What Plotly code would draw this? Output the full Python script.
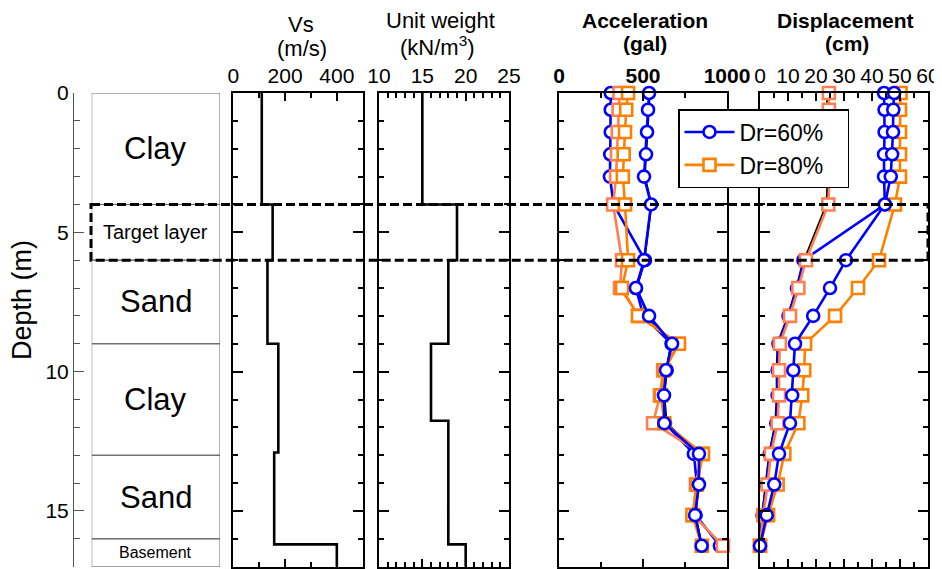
import plotly.graph_objects as go

W, H = 942, 569
FONT = "Liberation Sans, Arial, sans-serif"
OFF = 8  # the page body margin offsets the figure by 8 px

# ---------------- data ----------------
layer_names = ["Clay", "Target layer", "Sand", "Clay", "Sand", "Basement"]
layer_top = [0, 4, 6, 9, 13, 16]
layer_bottom = [4, 6, 9, 13, 16, 17]

vs_depth = [0, 4, 6, 9, 12.9, 16.2, 17]
vs_value = [110, 152, 132, 174, 158, 400, 400]

uw_depth = [0, 4, 6, 9, 11.76, 16.2, 17]
uw_value = [15, 19, 18, 16, 18, 20, 20]

depth_pts = [0, 0.6, 1.4, 2.2, 3.0, 4.0, 6.0, 7.0, 8.0, 9.0, 9.95, 10.85, 11.85, 12.95, 14.05, 15.15, 16.25]

acc_black = [540, 534, 527, 520, 510, 550, 508, 462, 530, 668, 640, 627, 640, 838, 830, 812, 850]
acc_blue_a = [308, 308, 308, 305, 303, 325, 512, 458, 502, 670, 641, 620, 631, 803, 821, 813, 958]
acc_coral = [360, 355, 350, 345, 340, 322, 375, 363, 476, 710, 620, 601, 560, 851, 815, 800, 976]
acc_orange = [411, 400, 393, 385, 380, 393, 411, 375, 470, 714, 625, 607, 627, 857, 821, 794, 850]
acc_blue_b = [536, 530, 524, 518, 506, 548, 506, 458, 536, 673, 637, 625, 627, 833, 833, 810, 849]

disp_black = [24.0, 24.0, 24.0, 24.0, 24.2, 23.8, 15.8, 13.0, 10.0, 6.3, 6.0, 6.0, 5.5, 3.3, 2.1, 0.8, 0]
disp_blue_a = [44.3, 44.5, 44.5, 44.3, 44.3, 44.6, 15.5, 13.2, 10.2, 6.6, 6.3, 6.3, 5.8, 3.5, 2.3, 0.9, 0]
disp_coral = [24.6, 24.6, 24.6, 24.6, 24.8, 24.4, 16.4, 13.7, 10.7, 7.1, 6.8, 6.8, 6.3, 3.9, 2.7, 1.2, 0]
disp_orange = [50.2, 50.0, 50.0, 50.0, 50.0, 48.2, 42.5, 35.0, 26.8, 16.1, 15.8, 15.1, 13.7, 8.7, 6.3, 2.9, 0]
disp_blue_b = [47.9, 47.6, 47.5, 47.2, 46.7, 44.6, 30.7, 25.0, 19.0, 12.5, 11.9, 11.5, 10.7, 6.8, 5.1, 2.4, 0]

vs_ticks = [0, 200, 400]
uw_ticks = [10, 15, 20, 25]
acc_ticks = [0, 500, 1000]
disp_ticks = [0, 10, 20, 30, 40, 50, 60]
depth_ticks = [0, 5, 10, 15]
legend_names = ["Dr=60%", "Dr=80%"]

# ---------------- layout helpers (pixel positions in the page) ----------------
def px(p):
    return (p - OFF) / W

def xdom(a, b):
    return [px(a), px(b)]

def py(p):
    return 1 - (p - OFF) / H

YDOM = [py(566.7), py(93)]
BLUE = "#0000FF"
ORANGE = "#FF8000"
CORAL = "#FF7F50"
PAD = "\u00a0\u00a0\u00a0"

fig = go.Figure()

# Vs and unit weight profiles
fig.add_trace(go.Scatter(x=vs_value, y=vs_depth, mode="lines", line=dict(color="black", width=2.6, shape="vh"),
                         xaxis="x2", yaxis="y2", showlegend=False))
fig.add_trace(go.Scatter(x=uw_value, y=uw_depth, mode="lines", line=dict(color="black", width=2.6, shape="vh"),
                         xaxis="x3", yaxis="y3", showlegend=False))

def series(x, color, symbol, axis, name=None, show=False, rank=None, black=False):
    if black:
        return go.Scatter(x=x, y=depth_pts, mode="lines", line=dict(color="black", width=2.2),
                          xaxis="x" + axis, yaxis="y" + axis, showlegend=False)
    return go.Scatter(x=x, y=depth_pts, mode="lines+markers", name=name,
                      line=dict(color=color, width=2.6),
                      marker=dict(symbol=symbol, size=12, color="white", line=dict(color=color, width=2.6)),
                      xaxis="x" + axis, yaxis="y" + axis, cliponaxis=False,
                      showlegend=show, legendrank=rank if rank else 1000)

for ax, blk, ba, co, orr, bb in [("4", acc_black, acc_blue_a, acc_coral, acc_orange, acc_blue_b),
                                  ("5", disp_black, disp_blue_a, disp_coral, disp_orange, disp_blue_b)]:
    fig.add_trace(series(blk, "black", None, ax, black=True))
    fig.add_trace(series(ba, BLUE, "circle", ax))
    fig.add_trace(series(co, CORAL, "square", ax))
    show = ax == "4"
    fig.add_trace(series(orr, ORANGE, "square", ax, name=legend_names[1] + PAD, show=show, rank=2))
    fig.add_trace(series(bb, BLUE, "circle", ax, name=legend_names[0] + PAD, show=show, rank=1))

tickfont = dict(family=FONT, size=21, color="black")

def panel_y(anchor):
    return dict(domain=YDOM, range=[17, 0], anchor=anchor, showticklabels=False, automargin=False,
                showline=True, linecolor="black", linewidth=2, mirror="ticks",
                ticks="inside", tick0=0, dtick=5, ticklen=10, tickwidth=1.5, tickcolor="black",
                minor=dict(ticks="inside", dtick=1, tick0=0, ticklen=5, tickwidth=1.5, tickcolor="black"),
                showgrid=False, zeroline=False)

def panel_x(dom, rng, anchor, tickvals, minor_dtick, font):
    return dict(domain=dom, range=rng, anchor=anchor, side="top", automargin=False,
                showline=True, linecolor="black", linewidth=2, mirror="ticks",
                ticks="inside", tickvals=tickvals, ticklen=8, tickwidth=1.5, tickcolor="black",
                minor=dict(ticks="inside", dtick=minor_dtick, tick0=0, ticklen=5, tickwidth=1.5, tickcolor="black"),
                tickfont=font, showgrid=False, zeroline=False)

boldfont = dict(family=FONT, size=21, color="black", weight="bold")

fig.update_layout(
    width=W, height=H, margin=dict(l=0, r=0, t=0, b=0, pad=0, autoexpand=False),
    paper_bgcolor="white", plot_bgcolor="white",
    font=dict(family=FONT, color="black"),
    xaxis=dict(domain=xdom(91.7, 220), range=[0, 1], visible=False, anchor="y", automargin=False),
    yaxis=dict(domain=YDOM, range=[17, 0], anchor="free", position=px(73), showline=True, automargin=False,
               linecolor="#555", linewidth=1, ticks="inside", tickvals=depth_ticks, ticklen=10,
               tickwidth=1, tickcolor="#555",
               minor=dict(ticks="inside", dtick=1, tick0=0, ticklen=6, tickwidth=1, tickcolor="#555"),
               tickfont=tickfont, showgrid=False, zeroline=False),
    xaxis2=panel_x(xdom(233.3, 362.7), [0, 500], "y2", vs_ticks, 100, tickfont),
    yaxis2=panel_y("x2"),
    xaxis3=panel_x(xdom(379, 509), [10, 25], "y3", uw_ticks, 1, tickfont),
    yaxis3=panel_y("x3"),
    xaxis4=panel_x(xdom(559, 727), [0, 1000], "y4", acc_ticks, 250, boldfont),
    yaxis4=panel_y("x4"),
    xaxis5=panel_x(xdom(760, 928), [0, 60], "y5", disp_ticks, 5, tickfont),
    yaxis5=panel_y("x5"),
    legend=dict(x=px(678), y=py(109), xanchor="left", yanchor="top", bgcolor="white",
                bordercolor="black", borderwidth=1.5, font=dict(family=FONT, size=23, color="black"),
                itemwidth=50, tracegroupgap=0),
)

# soil column boxes and labels
shapes = []
annotations = []
label_sizes = {"Target layer": 20, "Basement": 16}
for name, top, bot in zip(layer_names, layer_top, layer_bottom):
    shapes.append(dict(type="rect", xref="x", yref="y", x0=0, x1=1, y0=top, y1=bot,
                       line=dict(color="#666", width=1), layer="below"))
    annotations.append(dict(xref="x", yref="y", x=0.5, y=(top + bot) / 2, text=name, showarrow=False,
                            font=dict(family=FONT, size=label_sizes.get(name, 31), color="black")))

# dashed target-layer frame
shapes.append(dict(type="rect", xref="paper", yref="y", x0=px(91), x1=px(928),
                   y0=layer_top[1], y1=layer_bottom[1],
                   line=dict(color="black", width=3, dash="9px,4px"), layer="above"))

def title(text, xc, yc, bold=False, size=22):
    f = dict(family=FONT, size=size, color="black")
    if bold:
        f["weight"] = "bold"
    return dict(xref="paper", yref="paper", x=px(xc), y=py(yc), text=text, showarrow=False,
                xanchor="center", yanchor="middle", borderpad=0, font=f)

annotations += [
    title("Vs", 301, 24),
    title("(m/s)", 302, 48),
    title("Unit weight", 440, 21),
    title("(kN/m<sup>3</sup>)", 437, 46),
    title("Acceleration", 645, 20.5, bold=True, size=21),
    title("(gal)", 645, 44, bold=True, size=21),
    title("Displacement", 845, 20.5, bold=True, size=21),
    title("(cm)", 847, 44, bold=True, size=21),
    dict(xref="paper", yref="paper", x=px(22), y=py(300), text="Depth (m)", textangle=-90,
         showarrow=False, xanchor="center", yanchor="middle",
         font=dict(family=FONT, size=27, color="black")),
]

fig.update_layout(shapes=shapes, annotations=annotations)
fig.write_html("out.html")
